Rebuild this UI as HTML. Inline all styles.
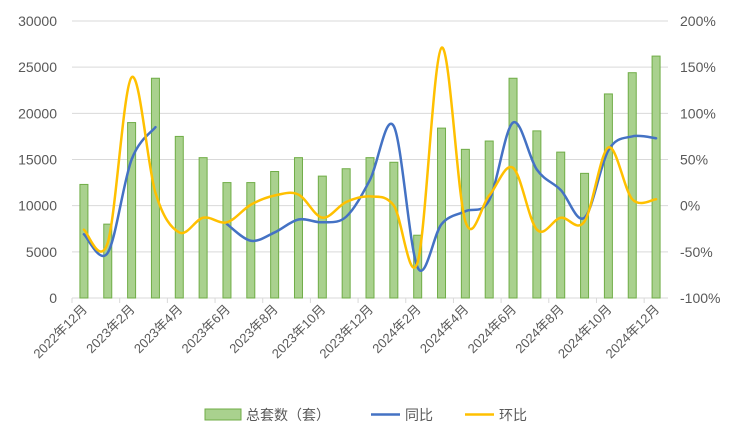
<!DOCTYPE html>
<html><head><meta charset="utf-8"><style>
html,body{margin:0;padding:0;background:#fff;}
svg{display:block;font-family:"Liberation Sans","Noto Sans CJK SC",sans-serif;}
</style></head><body>
<svg id="c" width="740" height="444" viewBox="0 0 740 444" xmlns="http://www.w3.org/2000/svg"></svg>
<script>
var s=document.getElementById('c'),h='';
var L=72,R=668,T=21,B=298,n=25,w=(R-L)/n;
function yl(v){return B-(v/30000)*(B-T);}
function yr(v){return B-((v+100)/300)*(B-T);}
function cx(i){return L+(i+0.5)*w;}
for(var k=0;k<=6;k++){var y=B-k*(B-T)/6;
 if(k>0)h+='<line x1="'+L+'" x2="'+R+'" y1="'+y+'" y2="'+y+'" stroke="#d9d9d9" stroke-width="1"/>';
 h+='<text x="57" y="'+(y+5)+'" text-anchor="end" font-size="14" fill="#595959">'+(k*5000)+'</text>';
 h+='<text x="680" y="'+(y+5)+'" font-size="14" fill="#595959">'+(k*50-100)+'%</text>';}
h+='<line x1="'+L+'" x2="'+R+'" y1="'+B+'" y2="'+B+'" stroke="#d9d9d9"/>';
for(var k=0;k<=n;k+=2){var x=L+k*w;h+='<line x1="'+x+'" x2="'+x+'" y1="'+B+'" y2="'+(B+5)+'" stroke="#d9d9d9"/>';}
var bars=[12300,8000,19000,23800,17500,15200,12500,12500,13700,15200,13200,14000,15200,14700,6800,18400,16100,17000,23800,18100,15800,13500,22100,24400,26200];
bars.forEach(function(v,i){var y=yl(v);h+='<rect x="'+(cx(i)-4)+'" y="'+y+'" width="8" height="'+(B-y)+'" fill="#a9d18e" stroke="#70ad47" stroke-width="1"/>';});
var labels=["2022年12月","2023年2月","2023年4月","2023年6月","2023年8月","2023年10月","2023年12月","2024年2月","2024年4月","2024年6月","2024年8月","2024年10月","2024年12月"];
labels.forEach(function(t,j){var x=cx(j*2)+4,y=B+12;h+='<text transform="translate('+x+','+y+') rotate(-45)" text-anchor="end" font-size="13" fill="#595959">'+t+'</text>';});
function path(pts){var d='M'+pts[0][0]+','+pts[0][1];for(var i=0;i<pts.length-1;i++){var p0=pts[i-1]||pts[i],p1=pts[i],p2=pts[i+1],p3=pts[i+2]||p2;
 d+=' C'+(p1[0]+(p2[0]-p0[0])/6)+','+(p1[1]+(p2[1]-p0[1])/6)+' '+(p2[0]-(p3[0]-p1[0])/6)+','+(p2[1]-(p3[1]-p1[1])/6)+' '+p2[0]+','+p2[1];}return d;}
function seg(vals,start,col){var p=vals.map(function(v,i){return [cx(start+i),yr(v)];});h+='<path d="'+path(p)+'" fill="none" stroke="'+col+'" stroke-width="2.5" stroke-linecap="round"/>';}
seg([-31,-51,50,85],0,'#4472c4');
seg([-20,-38,-29,-15,-18,-12,28,86,-67,-20,-6,6,90,39,17,-13,60,75,73],6,'#4472c4');
seg([-26,-40,139,14,-29,-13,-18,1,11,12,-13,4,10,0,-61,171,-17,11,41,-26,-13,-17,63,7,7],0,'#ffc000');
h+='<rect x="205" y="409" width="36" height="11" fill="#a9d18e" stroke="#70ad47"/>';
h+='<text x="246" y="420" font-size="14" fill="#595959">总套数（套）</text>';
h+='<line x1="371" x2="400" y1="414.5" y2="414.5" stroke="#4472c4" stroke-width="2.5"/>';
h+='<text x="405" y="420" font-size="14" fill="#595959">同比</text>';
h+='<line x1="465" x2="494" y1="414.5" y2="414.5" stroke="#ffc000" stroke-width="2.5"/>';
h+='<text x="499" y="420" font-size="14" fill="#595959">环比</text>';
s.innerHTML=h;
</script>
</body></html>
